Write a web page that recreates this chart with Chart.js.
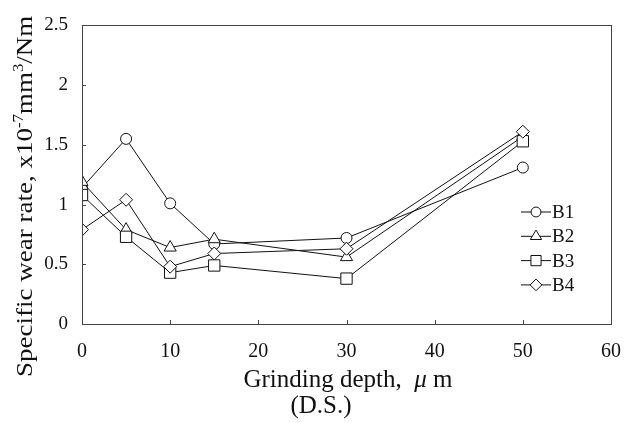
<!DOCTYPE html>
<html>
<head>
<meta charset="utf-8">
<script src="https://cdn.jsdelivr.net/npm/chart.js@4/dist/chart.umd.min.js"></script>
<style>
  html, body { margin: 0; padding: 0; background: #fff; }
  #wrap { width: 638px; height: 423px; }
</style>
</head>
<body>
<div id="wrap"><canvas id="wearChart" width="638" height="423"></canvas></div>
<script>
// grinding depth (um) and specific wear rate (x10^-7 mm3/Nm)
const depths = [0, 5, 10, 15, 30, 50];
const b1 = [1.14, 1.55, 1.01, 0.67, 0.72, 1.31];
const b2 = [1.19, 0.79, 0.64, 0.71, 0.56, 1.57];
const b3 = [1.08, 0.73, 0.43, 0.49, 0.38, 1.53];
const b4 = [0.79, 1.04, 0.48, 0.59, 0.63, 1.61];
const seriesNames = ['B1', 'B2', 'B3', 'B4'];
const xTicks = [0, 10, 20, 30, 40, 50, 60];
const yTicks = [0, 0.5, 1, 1.5, 2, 2.5];

const SERIF = "'Liberation Serif', 'Times New Roman', serif";

const styles = [
    { pointStyle: 'circle', radius: 5.5 },
    { pointStyle: 'triangle', radius: 7 },
    { pointStyle: 'rect', radius: 8 },
    { pointStyle: 'rectRot', radius: 6.5 }
];

function makeSet(name, values, i) {
    return {
        label: name,
        data: depths.map((d, k) => ({ x: d, y: values[k] })),
        borderColor: '#111',
        borderWidth: 1,
        backgroundColor: '#fff',
        pointBackgroundColor: '#fff',
        pointBorderColor: '#111',
        pointBorderWidth: 1,
        pointStyle: styles[i].pointStyle,
        pointRadius: styles[i].radius,
        tension: 0,
        order: 4 - i
    };
}

// small marker shapes for the legend box
function drawMarker(ctx, style, x, y, r) {
    ctx.beginPath();
    if (style === 'circle') {
        ctx.arc(x, y, r, 0, Math.PI * 2);
    } else if (style === 'triangle') {
        const h = r * 1.5;
        ctx.moveTo(x, y - h * 0.66);
        ctx.lineTo(x + r * 0.9, y + h * 0.34);
        ctx.lineTo(x - r * 0.9, y + h * 0.34);
        ctx.closePath();
    } else if (style === 'rect') {
        const s = r * Math.SQRT1_2;
        ctx.rect(x - s, y - s, 2 * s, 2 * s);
    } else {
        ctx.moveTo(x, y - r);
        ctx.lineTo(x + r, y);
        ctx.lineTo(x, y + r);
        ctx.lineTo(x - r, y);
        ctx.closePath();
    }
    ctx.fillStyle = '#fff';
    ctx.fill();
    ctx.stroke();
}

const framePlugin = {
    id: 'frame',
    afterDraw(chart) {
        const ctx = chart.ctx;
        const a = chart.chartArea;
        const xs = chart.scales.x, ys = chart.scales.y;
        ctx.save();
        ctx.strokeStyle = '#444';
        ctx.lineWidth = 1;
        ctx.strokeRect(Math.round(a.left) + 0.5, Math.round(a.top) + 0.5,
            Math.round(a.right - a.left), Math.round(a.bottom - a.top));

        // inward tick marks
        ctx.beginPath();
        xTicks.slice(1, -1).forEach(v => {
            const px = Math.round(xs.getPixelForValue(v)) + 0.5;
            ctx.moveTo(px, a.bottom);
            ctx.lineTo(px, a.bottom - 4);
        });
        yTicks.slice(1, -1).forEach(v => {
            const py = Math.round(ys.getPixelForValue(v)) + 0.5;
            ctx.moveTo(a.left, py);
            ctx.lineTo(a.left + 4, py);
        });
        ctx.stroke();

        // legend
        ctx.strokeStyle = '#111';
        ctx.font = '19px ' + SERIF;
        ctx.textBaseline = 'middle';
        ctx.textAlign = 'left';
        ctx.fillStyle = '#111';
        seriesNames.forEach((name, i) => {
            const y = 212 + i * 24.3;
            ctx.beginPath();
            ctx.moveTo(521, y);
            ctx.lineTo(551, y);
            ctx.stroke();
            drawMarker(ctx, styles[i].pointStyle, 536, y, styles[i].radius * 0.9);
            ctx.fillStyle = '#111';
            ctx.fillText(name, 552, y + 1);
        });

        // x axis title
        ctx.textBaseline = 'alphabetic';
        ctx.font = '25px ' + SERIF;
        const p1 = 'Grinding depth,  ', p3 = ' m';
        ctx.font = 'italic 25px ' + SERIF;
        const wMu = ctx.measureText('\u03bc').width;
        ctx.font = '25px ' + SERIF;
        const w1 = ctx.measureText(p1).width, w3 = ctx.measureText(p3).width;
        let tx = 348 - (w1 + wMu + w3) / 2;
        ctx.fillText(p1, tx, 387);
        ctx.font = 'italic 25px ' + SERIF;
        ctx.fillText('\u03bc', tx + w1, 387);
        ctx.font = '25px ' + SERIF;
        ctx.fillText(p3, tx + w1 + wMu, 387);
        ctx.textAlign = 'center';
        ctx.fillText('(D.S.)', 321, 413);

        // y axis title with superscripts
        ctx.translate(32, 377);
        ctx.rotate(-Math.PI / 2);
        ctx.scale(1.2, 1);
        ctx.textAlign = 'left';
        const parts = [
            ['Specific wear rate, x10', 22.5, 0],
            ['-7', 14, -9],
            ['mm', 22.5, 0],
            ['3', 14, -9],
            ['/Nm', 22.5, 0]
        ];
        let cx = 0;
        parts.forEach(([t, size, dy]) => {
            ctx.font = size + 'px ' + SERIF;
            ctx.fillText(t, cx, dy);
            cx += ctx.measureText(t).width;
        });
        ctx.restore();
    }
};

const ctx = document.getElementById('wearChart').getContext('2d');
new Chart(ctx, {
    type: 'line',
    data: {
        datasets: [
            makeSet(seriesNames[0], b1, 0),
            makeSet(seriesNames[1], b2, 1),
            makeSet(seriesNames[2], b3, 2),
            makeSet(seriesNames[3], b4, 3)
        ]
    },
    options: {
        responsive: false,
        animation: false,
        layout: { padding: { left: 0, right: 27, top: 18, bottom: 0 } },
        plugins: { legend: { display: false }, tooltip: { enabled: false } },
        scales: {
            x: {
                type: 'linear',
                min: 0, max: 60,
                afterBuildTicks: s => { s.ticks = xTicks.map(v => ({ value: v })); },
                afterFit: s => { s.height = 99; },
                grid: { display: false, drawTicks: false },
                border: { display: false },
                ticks: { color: '#111', padding: 16, maxRotation: 0, font: { family: SERIF, size: 20 } }
            },
            y: {
                min: 0, max: 2.5,
                afterBuildTicks: s => { s.ticks = yTicks.map(v => ({ value: v })); },
                afterFit: s => { s.width = 82; },
                grid: { display: false, drawTicks: false },
                border: { display: false },
                ticks: {
                    color: '#111', padding: 14, font: { family: SERIF, size: 19 },
                    callback: v => String(v)
                }
            }
        }
    },
    plugins: [framePlugin]
});
</script>
</body>
</html>
